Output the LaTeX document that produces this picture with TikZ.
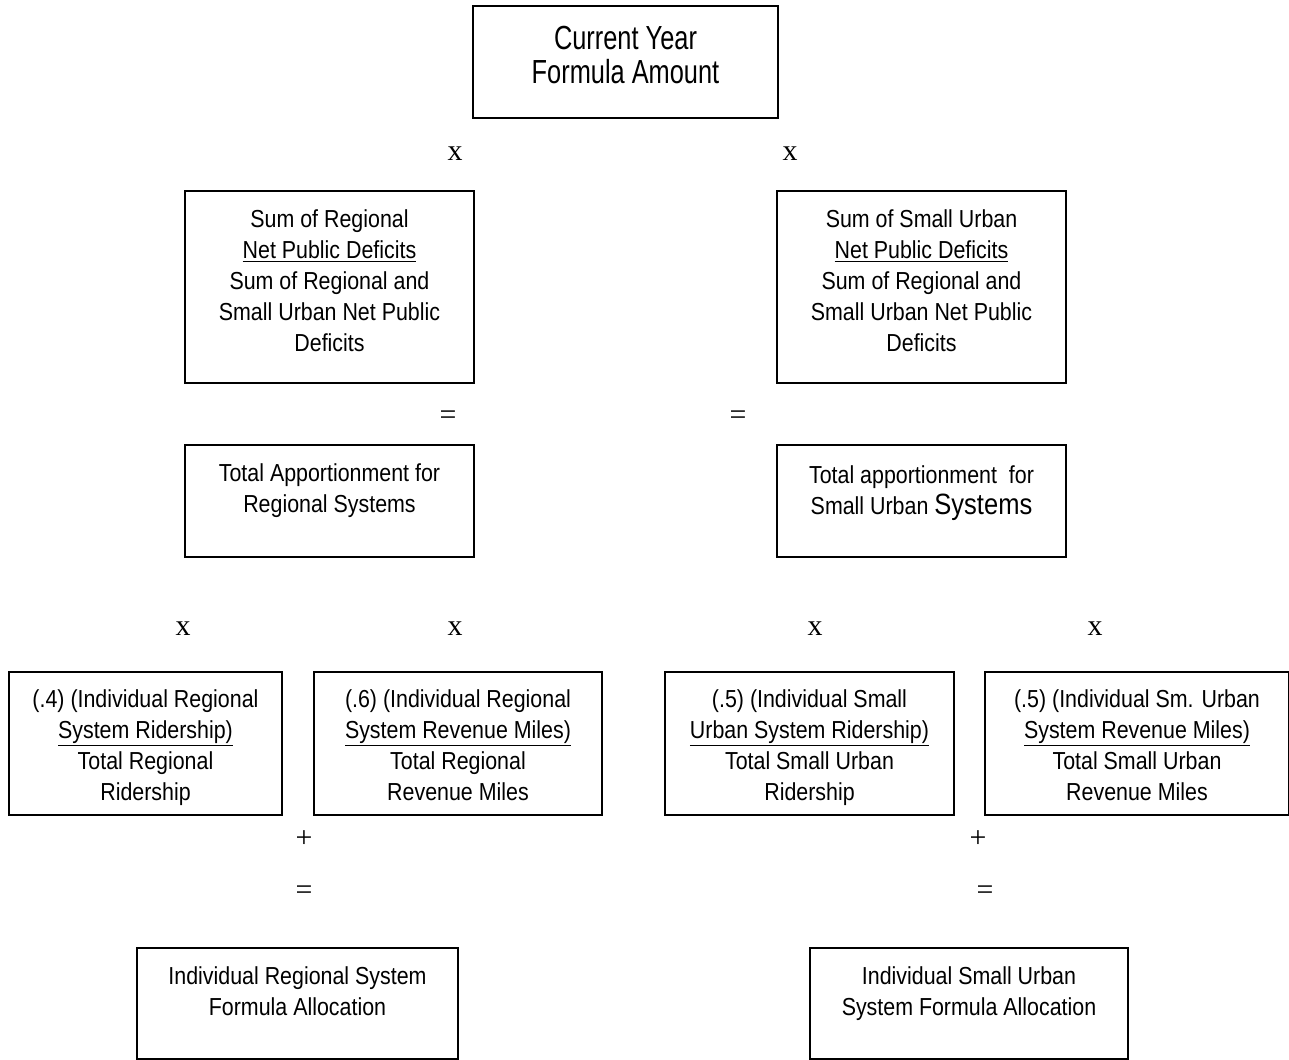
\documentclass[tikz,border=0pt]{standalone}
\usepackage{fontspec}
\setmainfont{Liberation Sans}[FakeStretch=0.87]
\newfontfamily\headfont{Liberation Sans}[FakeStretch=0.76]
\newfontfamily\opfont{Liberation Serif}
\usetikzlibrary{positioning}

\tikzset{
	frame/.style={draw, line width=1pt},
	txt/.style={align=center, inner sep=0pt, anchor=base, font=\fontsize{14}{17.6}\selectfont},
	op/.style={inner sep=0pt, font=\opfont\fontsize{17}{17}\selectfont},
}

\begin{document}
\begin{tikzpicture}[x=0.02cm, y=-0.02cm]
			\useasboundingbox (0,0) rectangle (1289,1059);
			% top box
			\draw[frame] (473,6) rectangle (778,118);
			\node[txt, anchor=center, font=\headfont\fontsize{19}{18.8}\selectfont] (amount) at (625.5,55) {Current Year\\Formula Amount};
			\node[op] (xl) at (455,154) {x};
			\node[op] (xr) at (790,154) {x};
			
			% shares of the net public deficits (base = last line)
			\draw[frame] (185,191) rectangle (474,383);
			\node[txt] (regshare) at (329.5,351) {Sum of Regional\\\underline{Net Public Deficits}\\Sum of Regional and\\Small Urban Net Public\\Deficits};
			\draw[frame] (777,191) rectangle (1066,383);
			\node[txt] (urbshare) at (921.5,351) {Sum of Small Urban\\\underline{Net Public Deficits}\\Sum of Regional and\\Small Urban Net Public\\Deficits};
			\node[op] (eql) at (448,418) {=};
			\node[op] (eqr) at (738,418) {=};
			
			% total apportionments
			\draw[frame] (185,445) rectangle (474,557);
			\node[txt] (regtotal) at (329.5,512) {Total Apportionment for\\Regional Systems};
			\draw[frame] (777,445) rectangle (1066,557);
			\node[txt] (urbtotal) at (921.5,514) {Total apportionment\ \ for\\Small Urban {\fontsize{16.7}{17.6}\selectfont Systems}};
			\node[op] (x1) at (183,629) {x};
			\node[op] (x2) at (455,629) {x};
			\node[op] (x3) at (815,629) {x};
			\node[op] (x4) at (1095,629) {x};
			
			% ridership and revenue miles factors
			\draw[frame] (9,672) rectangle (282,815);
			\node[txt] (regrider) at (145.5,800) {(.4) (Individual Regional\\\underline{System Ridership)}\\Total Regional\\Ridership};
			\draw[frame] (314,672) rectangle (602,815);
			\node[txt] (regmiles) at (458,800) {(.6) (Individual Regional\\\underline{System Revenue Miles)}\\Total Regional\\Revenue Miles};
			\draw[frame] (665,672) rectangle (954,815);
			\node[txt] (urbrider) at (809.5,800) {(.5) (Individual Small\\\underline{Urban System Ridership)}\\Total Small Urban\\Ridership};
			\draw[frame] (985,672) rectangle (1289,815);
			\node[txt] (urbmiles) at (1137,800) {(.5) (Individual Sm. Urban\\\underline{System Revenue Miles)}\\Total Small Urban\\Revenue Miles};
			\node[op] (plusl) at (304,839) {+};
			\node[op] (plusr) at (978,839) {+};
			\node[op] (eqbl) at (304,893) {=};
			\node[op] (eqbr) at (985,893) {=};
			
			% allocations
			\draw[frame] (137,948) rectangle (458,1059);
			\node[txt] (regalloc) at (297.5,1015) {Individual Regional System\\Formula Allocation};
			\draw[frame] (810,948) rectangle (1128,1059);
			\node[txt] (urballoc) at (969,1015) {Individual Small Urban\\System Formula Allocation};
		\end{tikzpicture}
\end{document}
